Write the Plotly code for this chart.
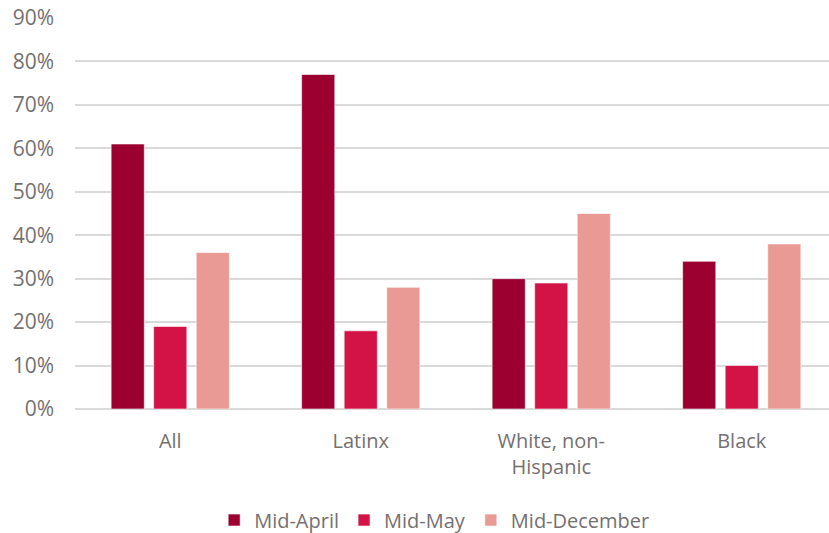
import plotly.graph_objects as go

categories = ["All", "Latinx", "White, non-<br>Hispanic", "Black"]
series_names = ["Mid-April", "Mid-May", "Mid-December"]
mid_april = [0.61, 0.77, 0.30, 0.34]
mid_may = [0.19, 0.18, 0.29, 0.10]
mid_december = [0.36, 0.28, 0.45, 0.38]
colors = ["#9B0030", "#D31245", "#EA9A94"]
y_ticks = [0, 0.1, 0.2, 0.3, 0.4, 0.5, 0.6, 0.7, 0.8, 0.9]

text_color = "#757070"
font_family = "Open Sans, Segoe UI, sans-serif"

fig = go.Figure()
for name, vals, col in zip(series_names, [mid_april, mid_may, mid_december], colors):
    fig.add_trace(go.Bar(
        x=list(range(len(categories))),
        y=vals,
        name=name,
        marker=dict(color=col, line=dict(color="rgba(255,255,255,0.6)", width=1)),
    ))

fig.update_layout(
    width=829,
    height=533,
    margin=dict(l=75, r=0, t=18, b=124, autoexpand=False),
    paper_bgcolor="white",
    plot_bgcolor="white",
    barmode="group",
    bargap=0.33,
    bargroupgap=0.22,
    font=dict(family=font_family, size=20, color=text_color),
    xaxis=dict(
        tickmode="array",
        tickvals=list(range(len(categories))),
        ticktext=categories,
        range=[-0.5, 3.458],
        showgrid=False,
        showline=False,
        zeroline=False,
        ticks="",
        ticklabelstandoff=18,
        tickfont=dict(size=20, color=text_color),
    ),
    yaxis=dict(
        range=[0, 0.9],
        tickvals=y_ticks,
        tickformat=".0%",
        showgrid=True,
        gridcolor="#D9D9D9",
        gridwidth=1.5,
        zeroline=True,
        zerolinecolor="#D9D9D9",
        zerolinewidth=1.5,
        showline=False,
        ticks="",
        ticklabelstandoff=20,
        tickfont=dict(size=21, color=text_color),
    ),
    legend=dict(
        orientation="h",
        x=0.477,
        xanchor="center",
        y=-0.284,
        yanchor="middle",
        font=dict(size=20, color=text_color),
        traceorder="normal",
    ),
)

fig.write_html("out.html")
